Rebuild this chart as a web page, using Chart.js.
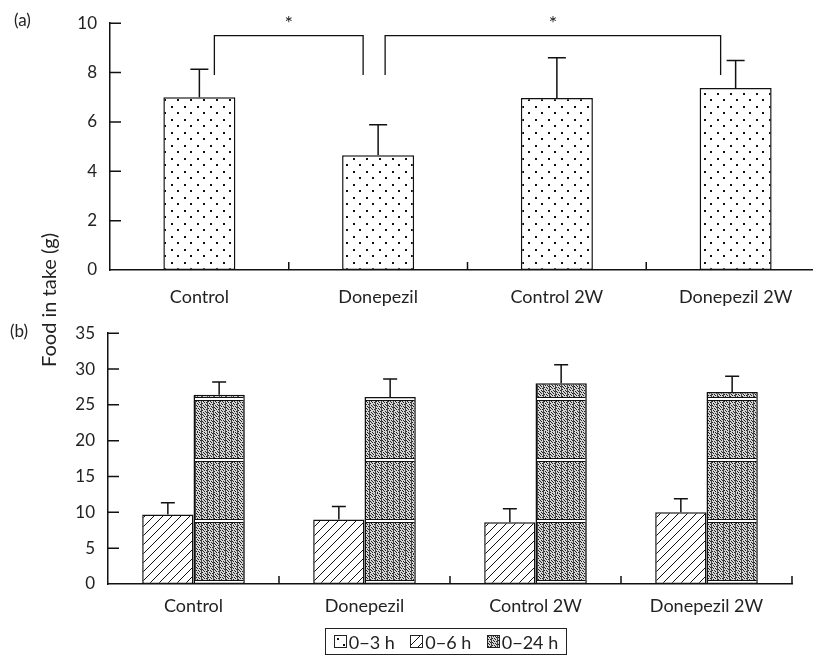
<!DOCTYPE html>
<html lang="en">
<head>
<meta charset="UTF-8">
<title>Food intake</title>
<script src="https://cdn.jsdelivr.net/npm/chart.js@4.4.0/dist/chart.umd.min.js"></script>
<style>
  body { margin: 0; background: #fff; font-family: Lato, sans-serif; color: #222; }
  #wrap { position: relative; width: 813px; height: 659px; overflow: hidden; }
  #chartA, #chartB { position: absolute; left: 0; }
  .tag { position: absolute; font-size: 17px; }
  #ytitle {
    position: absolute; left: 48px; top: 300px; font-size: 20px; white-space: nowrap;
    transform: translate(-50%, -50%) rotate(-90deg);
  }
  #legend {
    position: absolute; left: 325px; top: 628px; width: 240px; height: 25px;
    border: 1px solid #222; display: flex; align-items: center; justify-content: space-around;
    font-size: 18px;
  }
  #legend span { display: inline-flex; align-items: center; }
  #legend canvas { border: 1px solid #222; margin-right: 2px; }
</style>
</head>
<body>
<div id="wrap">
  <canvas id="chartA" width="828" height="320" style="top:0"></canvas>
  <canvas id="chartB" width="813" height="320" style="top:310px"></canvas>
  <div class="tag" style="left:14px;top:9px">(a)</div>
  <div class="tag" style="left:10px;top:320px">(b)</div>
  <div id="ytitle">Food in take (g)</div>
  <div id="legend">
    <span><canvas id="sw0" width="11" height="11"></canvas>0−3 h</span>
    <span><canvas id="sw1" width="11" height="11"></canvas>0−6 h</span>
    <span><canvas id="sw2" width="11" height="11"></canvas>0−24 h</span>
  </div>
</div>
<script>
  // data
  const groups = ['Control', 'Donepezil', 'Control 2W', 'Donepezil 2W'];
  const seriesNames = ['0−3 h', '0−6 h', '0−24 h'];

  const intake3h = [7.0, 4.65, 6.97, 7.37];
  const err3h    = [1.13, 1.24, 1.63, 1.12];

  const intake6h = [9.7, 9.0, 8.6, 10.0];
  const err6h    = [1.65, 1.8, 1.9, 1.9];

  const intake24h = [26.4, 26.1, 28.0, 26.8];
  const err24h    = [1.8, 2.5, 2.6, 2.2];

  const yTicksA = [0, 2, 4, 6, 8, 10];
  const yTicksB = [0, 5, 10, 15, 20, 25, 30, 35];

  // significance: pairs of group indexes, bracket height, label
  const sigPairs = [[0, 1], [1, 3]];
  const sigLevel = 9.5;
  const sigLegEnd = 7.9;
  const sigLabels = ['*', '*'];

  const INK = '#111';

  function makePattern(ctx, kind) {
    const c = document.createElement('canvas');
    const g = c.getContext('2d');
    if (kind === 'dots') {
      c.width = 13; c.height = 13;
      g.fillStyle = '#fff'; g.fillRect(0, 0, 13, 13);
      g.fillStyle = INK;
      g.fillRect(2, 2, 2, 2);
      g.fillRect(8, 8, 2, 2);
    } else if (kind === 'hatch') {
      c.width = 9; c.height = 9;
      g.fillStyle = '#fff'; g.fillRect(0, 0, 9, 9);
      g.strokeStyle = INK; g.lineWidth = 1;
      g.beginPath();
      g.moveTo(0, 9); g.lineTo(9, 0);
      g.moveTo(-1, 1); g.lineTo(1, -1);
      g.moveTo(8, 10); g.lineTo(10, 8);
      g.stroke();
    } else {
      // dense stipple with vertical streaks and a white band every 61px
      c.width = 12; c.height = 61;
      g.fillStyle = '#d4d4d4'; g.fillRect(0, 0, 12, 61);
      g.fillStyle = '#222';
      for (let y = 0; y < 61; y++) {
        for (let x = 0; x < 12; x++) {
          if ((x * 3 + y * 5) % 7 < 2) g.fillRect(x, y, 1, 1);
        }
      }
      g.fillStyle = '#444';
      g.fillRect(3, 0, 1, 61);
      g.fillRect(9, 0, 1, 61);
      g.fillStyle = INK; g.fillRect(0, 26, 12, 1); g.fillRect(0, 29, 12, 1);
      g.fillStyle = '#fff'; g.fillRect(0, 27, 12, 2);
    }
    return ctx.createPattern(c, 'repeat');
  }

  const axisMarks = {
    id: 'axisMarks',
    afterDraw(chart, args, opts) {
      const ctx = chart.ctx, x = chart.scales.x, y = chart.scales.y, area = chart.chartArea;
      ctx.save();
      ctx.strokeStyle = INK; ctx.lineWidth = 1.5;
      ctx.beginPath();
      y.ticks.forEach(t => {
        if (t.value === 0) return;
        const py = y.getPixelForValue(t.value);
        ctx.moveTo(area.left, py); ctx.lineTo(area.left + 11, py);
      });
      const n = x.ticks.length;
      const half = (x.getPixelForValue(1) - x.getPixelForValue(0)) / 2;
      for (let i = 0; i < n; i++) {
        if (i === n - 1 && !opts.endTick) continue;
        const px = x.getPixelForValue(i) + half;
        ctx.moveTo(px, area.bottom); ctx.lineTo(px, area.bottom - 8);
      }
      ctx.stroke();
      ctx.restore();
    }
  };

  const errorBars = {
    id: 'errorBars',
    afterDatasetsDraw(chart, args, opts) {
      const ctx = chart.ctx, y = chart.scales.y;
      ctx.save();
      ctx.strokeStyle = INK; ctx.lineWidth = 1.5;
      chart.data.datasets.forEach((ds, di) => {
        chart.getDatasetMeta(di).data.forEach((bar, i) => {
          const top = y.getPixelForValue(ds.data[i] + ds.errors[i]);
          ctx.beginPath();
          ctx.moveTo(bar.x, bar.y); ctx.lineTo(bar.x, top);
          ctx.moveTo(bar.x - opts.cap, top); ctx.lineTo(bar.x + opts.cap, top);
          ctx.stroke();
        });
      });
      ctx.restore();
    }
  };

  const sigBrackets = {
    id: 'sigBrackets',
    afterDatasetsDraw(chart) {
      const ctx = chart.ctx, y = chart.scales.y, bars = chart.getDatasetMeta(0).data;
      const inset = [[15, -15], [7, -15]];
      const top = y.getPixelForValue(sigLevel), end = y.getPixelForValue(sigLegEnd);
      ctx.save();
      ctx.strokeStyle = INK; ctx.lineWidth = 1.3; ctx.fillStyle = '#222';
      ctx.font = '20px Lato'; ctx.textAlign = 'center'; ctx.textBaseline = 'middle';
      sigPairs.forEach(([a, b], k) => {
        const x1 = bars[a].x + inset[k][0], x2 = bars[b].x + inset[k][1];
        ctx.beginPath();
        ctx.moveTo(x1, end); ctx.lineTo(x1, top); ctx.lineTo(x2, top); ctx.lineTo(x2, end);
        ctx.stroke();
        ctx.fillText(sigLabels[k], (x1 + x2) / 2, top - 12);
      });
      ctx.restore();
    }
  };

  function axes(ticksList, yWidth, xHeight, xPad) {
    return {
      y: {
        min: ticksList[0], max: ticksList[ticksList.length - 1],
        afterBuildTicks: s => { s.ticks = ticksList.map(v => ({ value: v })); },
        afterFit: s => { s.width = yWidth; },
        grid: { display: false, drawTicks: false },
        border: { color: INK, width: 1.5 },
        ticks: { padding: 13, color: '#222', font: { family: 'Lato', size: 17 } }
      },
      x: {
        afterFit: s => { s.height = xHeight; },
        grid: { display: false, drawTicks: false },
        border: { color: INK, width: 1.5 },
        ticks: { padding: xPad, color: '#222', font: { family: 'Lato', size: 18 } }
      }
    };
  }

  const ctxA = document.getElementById('chartA').getContext('2d');
  new Chart(ctxA, {
    type: 'bar',
    data: {
      labels: groups,
      datasets: [{
        label: seriesNames[0],
        data: intake3h,
        errors: err3h,
        backgroundColor: makePattern(ctxA, 'dots'),
        borderColor: INK, borderWidth: 1.5, borderSkipped: false,
        categoryPercentage: 0.403, barPercentage: 1
      }]
    },
    options: {
      responsive: false, animation: false,
      layout: { padding: { top: 19, right: 3, left: 0, bottom: 0 } },
      plugins: { legend: { display: false }, tooltip: { enabled: false }, errorBars: { cap: 9 } },
      scales: axes(yTicksA, 110, 50, 16)
    },
    plugins: [axisMarks, errorBars, sigBrackets]
  });

  const ctxB = document.getElementById('chartB').getContext('2d');
  new Chart(ctxB, {
    type: 'bar',
    data: {
      labels: groups,
      datasets: [{
        label: seriesNames[1],
        data: intake6h,
        errors: err6h,
        backgroundColor: makePattern(ctxB, 'hatch'),
        borderColor: INK, borderWidth: 1.5, borderSkipped: false,
        categoryPercentage: 0.6, barPercentage: 1
      }, {
        label: seriesNames[2],
        data: intake24h,
        errors: err24h,
        backgroundColor: makePattern(ctxB, 'dense'),
        borderColor: INK, borderWidth: 1.5, borderSkipped: false,
        categoryPercentage: 0.6, barPercentage: 1
      }]
    },
    options: {
      responsive: false, animation: false,
      layout: { padding: { top: 18, right: 21, left: 0, bottom: 0 } },
      plugins: { legend: { display: false }, tooltip: { enabled: false }, errorBars: { cap: 7 }, axisMarks: { endTick: true } },
      scales: axes(yTicksB, 108, 46, 11)
    },
    plugins: [axisMarks, errorBars]
  });

  // legend swatches
  ['dots', 'hatch', 'dense'].forEach((kind, i) => {
    const g = document.getElementById('sw' + i).getContext('2d');
    g.fillStyle = makePattern(g, kind);
    g.fillRect(0, 0, 11, 11);
  });
</script>
</body>
</html>
